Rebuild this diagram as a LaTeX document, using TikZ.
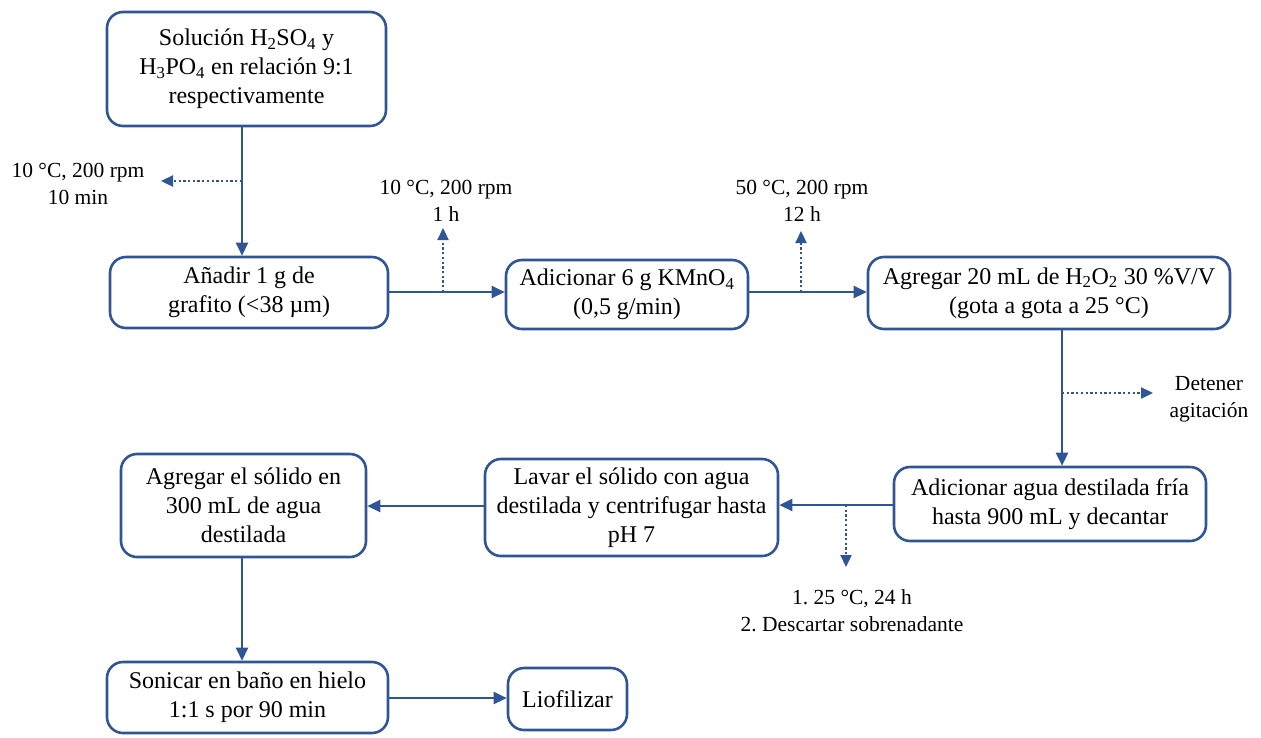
\documentclass[tikz,border=0pt]{standalone}
\usepackage{fontspec}
\setmainfont{Liberation Serif}
\frenchspacing
\usetikzlibrary{arrows.meta,calc}
\definecolor{flowblue}{HTML}{2F5597}
\begin{document}
\begin{tikzpicture}[x=1pt,y=-1pt,
  stepbox/.style={draw=flowblue,line width=2.6pt,rounded corners=16pt,align=center,inner sep=0pt,
    font=\fontsize{24}{29}\selectfont,text=black},
  cond/.style={align=center,inner sep=0pt,font=\fontsize{21.5}{27}\selectfont,text=black},
  arr/.style={draw=flowblue,line width=2.5pt,-{Triangle[length=13pt,width=12pt]}},
  dotarr/.style={draw=flowblue,line width=2.3pt,dash pattern=on 2.3pt off 2.4pt,-{Triangle[length=12pt,width=11pt]}}]
\useasboundingbox (0,0) rectangle (1261,737);
% boxes
\node[stepbox,minimum width=279pt,minimum height=114pt] (b1) at (246.5,69) {Solución H\textsubscript{2}SO\textsubscript{4} y\\H\textsubscript{3}PO\textsubscript{4} en relación 9:1\\respectivamente};
\node[stepbox,minimum width=278pt,minimum height=71pt] (b2) at (249,292.5) {Añadir 1 g de\\grafito (<38 µm)};
\node[stepbox,minimum width=242pt,minimum height=69pt] (b3) at (627,294.5) {Adicionar 6 g KMnO\textsubscript{4}\\(0,5 g/min)};
\node[stepbox,minimum width=362pt,minimum height=72pt] (b4) at (1049,293) {Agregar 20 mL de H\textsubscript{2}O\textsubscript{2} 30 \%V/V\\(gota a gota a 25 °C)};
\node[stepbox,minimum width=312pt,minimum height=74pt] (b5) at (1050,504) {Adicionar agua destilada fría\\hasta 900 mL y decantar};
\node[stepbox,minimum width=293pt,minimum height=97pt] (b6) at (631.5,507.5) {Lavar el sólido con agua\\destilada y centrifugar hasta\\pH 7};
\node[stepbox,minimum width=245pt,minimum height=103pt] (b7) at (243.5,505.5) {Agregar el sólido en\\300 mL de agua\\destilada};
\node[stepbox,minimum width=281pt,minimum height=71pt] (b8) at (247.5,697.5) {Sonicar en baño en hielo\\1:1 s por 90 min};
\node[stepbox,minimum width=119pt,minimum height=62pt] (b9) at (567.5,699) {Liofilizar};
% condition labels
\node[cond] (l1) at (78,184) {10 °C, 200 rpm\\10 min};
\node[cond] (l2) at (446,201) {10 °C, 200 rpm\\1 h};
\node[cond] (l3) at (802,201) {50 °C, 200 rpm\\12 h};
\node[cond] (l4) at (1209,399) {Detener\\agitación};
\node[cond] (l5) at (852,611) {1. 25 °C, 24 h\\2. Descartar sobrenadante};
% branch points and free ends
\coordinate (m1) at (242,181);  \coordinate (t1) at (161,181);
\coordinate (m2) at (443,292);  \coordinate (t2) at (443,228);
\coordinate (m3) at (801,292);  \coordinate (t3) at (801,231);
\coordinate (m4) at (1062,393); \coordinate (t4) at (1153,393);
\coordinate (m5) at (846,505);  \coordinate (t5) at (846,567);
% main flow
\draw[arr] (b1.south -| m1) -- (b2.north -| m1);
\draw[arr] (b2.east |- m2) -- (b3.west |- m2);
\draw[arr] (b3.east |- m3) -- (b4.west |- m3);
\draw[arr] (b4.south -| m4) -- (b5.north -| m4);
\draw[arr] (b5.west |- m5) -- (b6.east |- m5);
\draw[arr] (b6.west |- 0,506) -- (b7.east |- 0,506);
\draw[arr] (b7.south -| m1) -- (b8.north -| m1);
\draw[arr] (b8.east |- 0,698) -- (b9.west |- 0,698);
% dotted branches
\draw[dotarr] (m1) -- (t1);
\draw[dotarr] (m2) -- (t2);
\draw[dotarr] (m3) -- (t3);
\draw[dotarr] (m4) -- (t4);
\draw[dotarr] (m5) -- (t5);
\end{tikzpicture}
\end{document}
